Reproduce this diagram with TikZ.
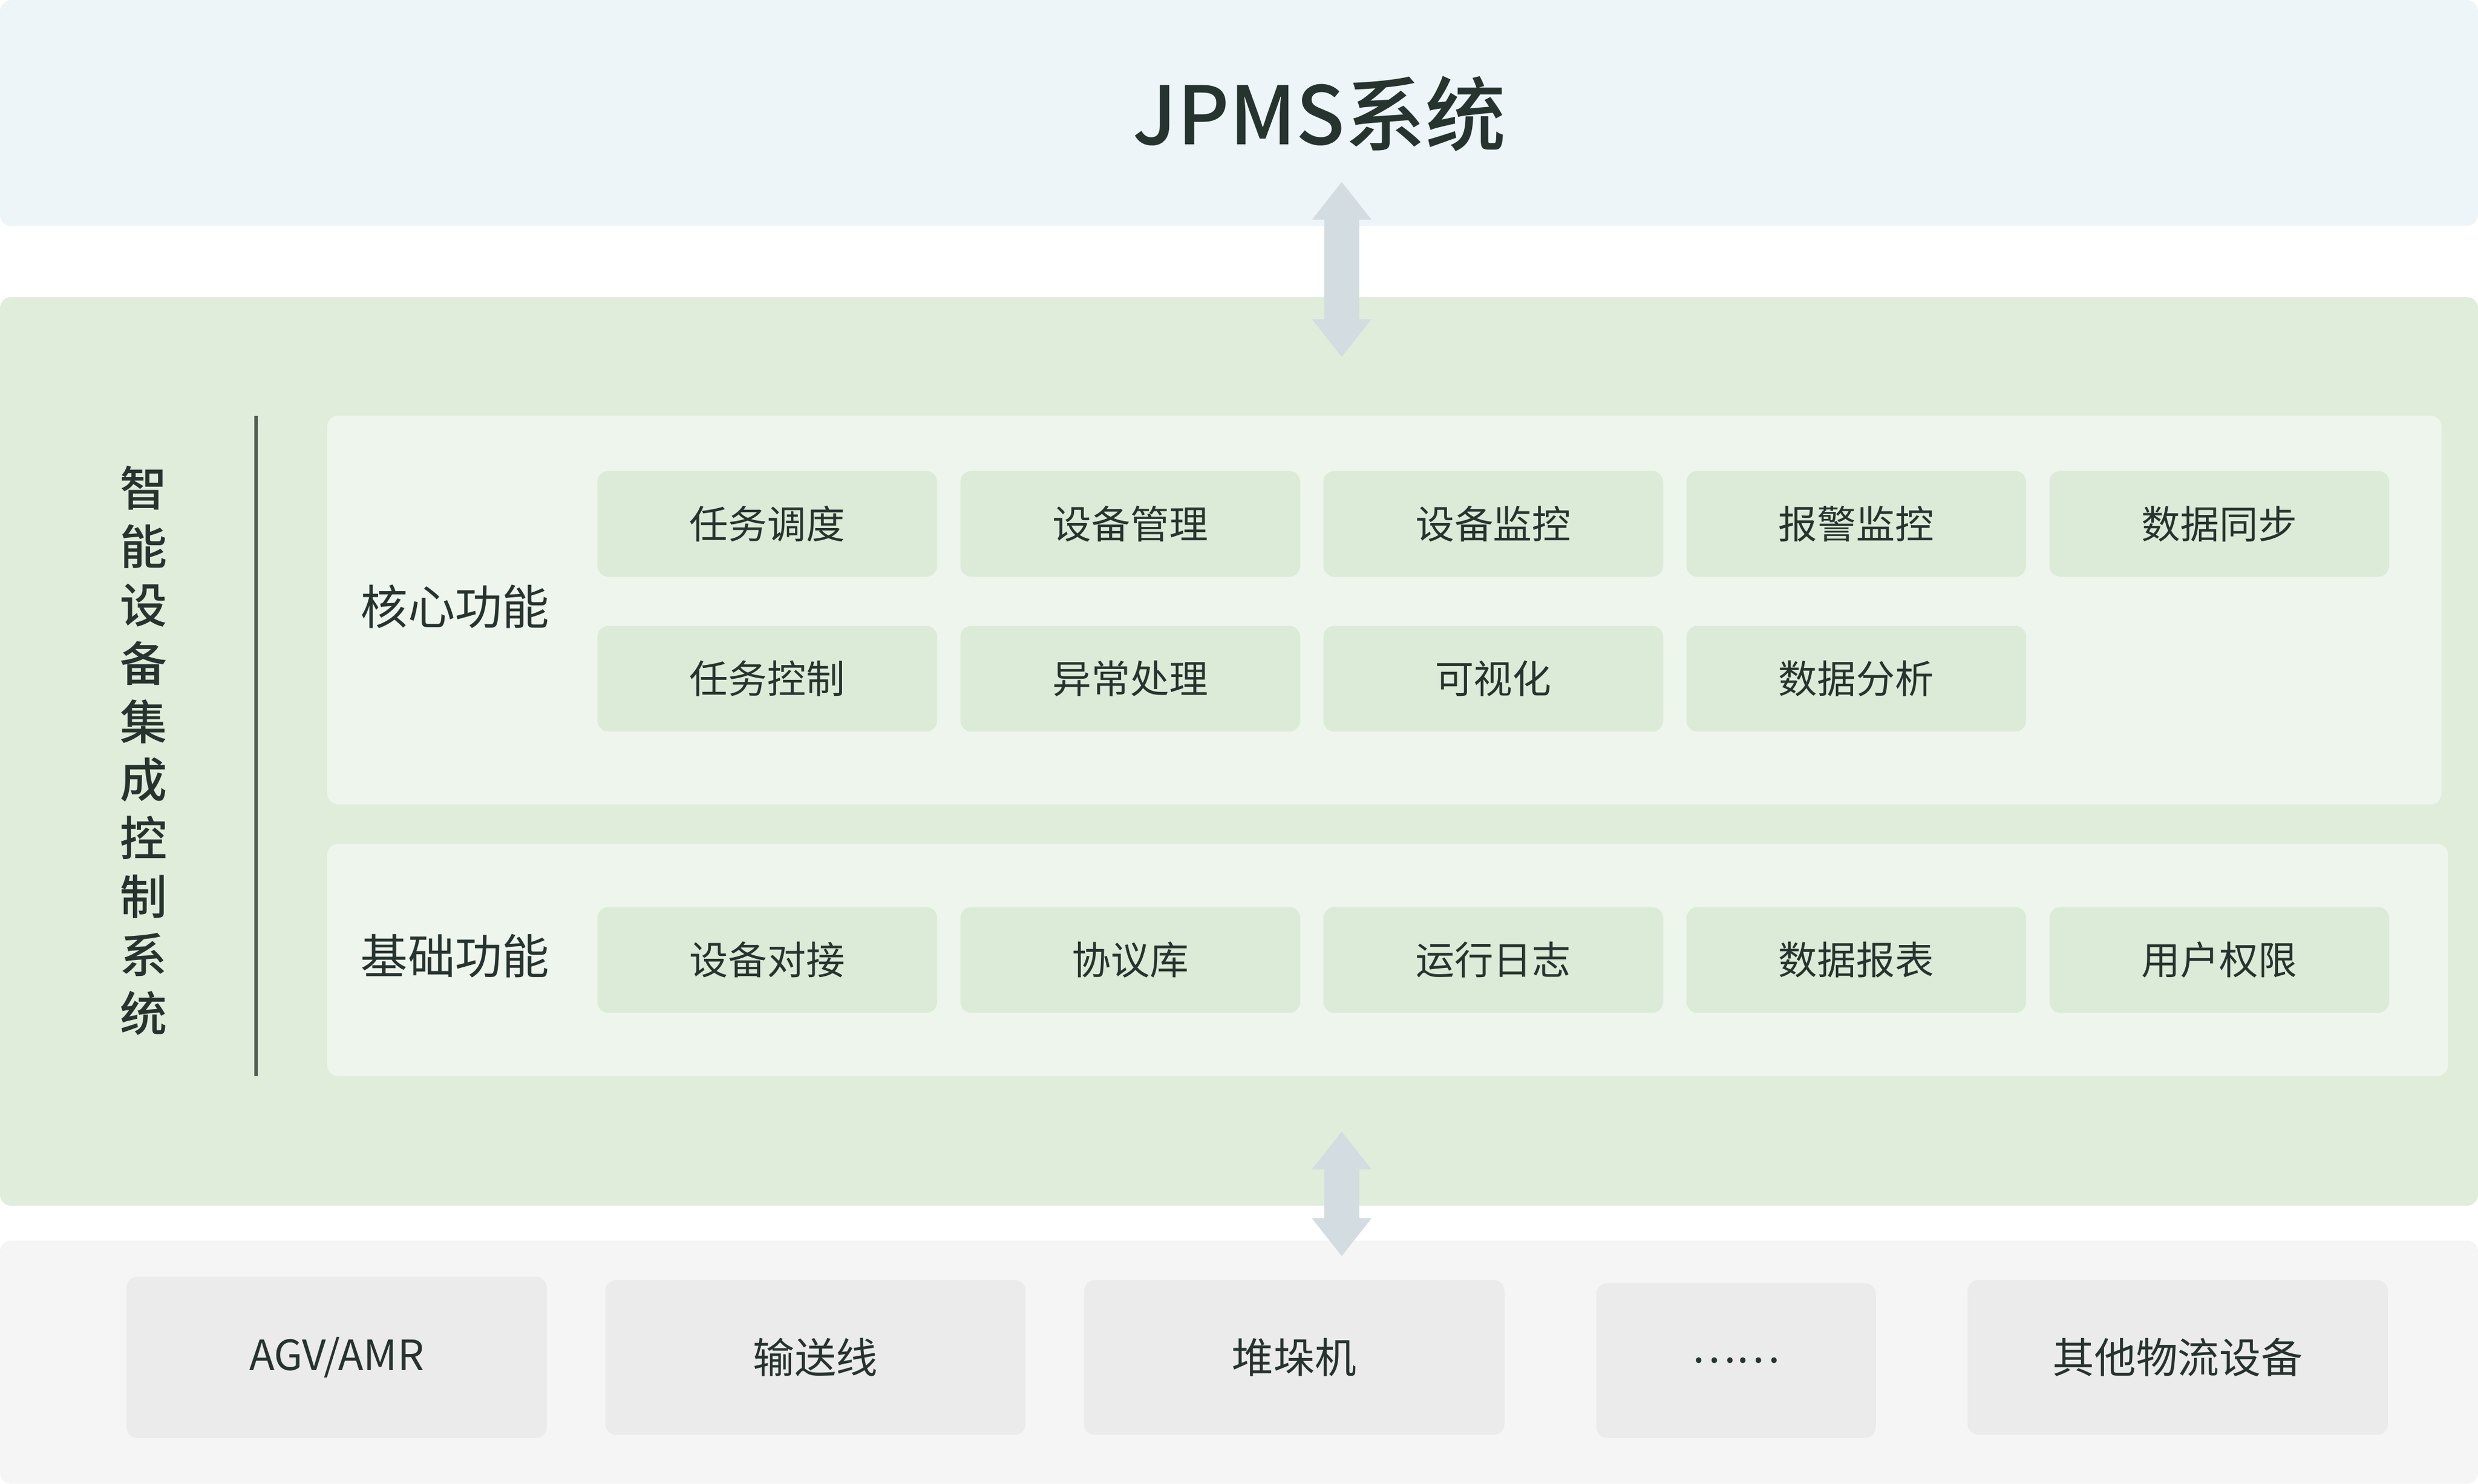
\documentclass[tikz,border=0pt]{standalone}
\usepackage{fontspec}
\setmainfont{Noto Sans CJK SC}
\newfontfamily\medium{Noto Sans CJK SC}[UprightFont=* Medium]
\usetikzlibrary{arrows.meta}
\definecolor{topband}{HTML}{EEF5F9}
\definecolor{midband}{HTML}{DFEDDA}
\definecolor{panel}{HTML}{EEF5EC}
\definecolor{cell}{HTML}{DCEBD7}
\definecolor{lowband}{HTML}{F5F5F5}
\definecolor{dev}{HTML}{EBEBEB}
\definecolor{linkgray}{HTML}{D3DCE0}
\definecolor{ink}{HTML}{26332F}
\tikzset{
  func/.style={fill=cell,rounded corners=2pt,minimum width=21.5mm,minimum height=6.7mm,
    inner sep=0pt,font=\fontsize{7}{8}\selectfont,text=ink},
  device/.style={fill=dev,rounded corners=2pt,inner sep=0pt,font=\fontsize{7.5}{9}\selectfont,text=ink},
  group/.style={font=\fontsize{8.5}{10}\selectfont,text=ink},
  dblarrow/.style={linkgray,line width=2.2mm,{Triangle[width=3.6mm,length=2.4mm]}-{Triangle[width=3.6mm,length=2.4mm]}}
}
\begin{document}
\begin{tikzpicture}[x=0.1mm,y=-0.1mm]
        \useasboundingbox (0,0) rectangle (1568,939);
        % bands
        \fill[topband,rounded corners=2pt] (0,0) rectangle (1568,143);
        \fill[midband,rounded corners=2pt] (0,188) rectangle (1568,763);
        \fill[lowband,rounded corners=2pt] (0,785) rectangle (1568,939);
        \fill[panel,rounded corners=2pt] (207,263) rectangle (1545,509);
        \fill[panel,rounded corners=2pt] (207,534) rectangle (1549,681);

        \node[font=\fontsize{14.5}{16}\selectfont\medium,text=ink] (jpms) at (835,72) {JPMS系统};
        \coordinate (top1) at (849,115);
        \coordinate (top2) at (849,226);
        \coordinate (low1) at (849,716);
        \coordinate (low2) at (849,795);
        \draw[dblarrow] (top1) -- (top2);
        \draw[dblarrow] (low1) -- (low2);

        % side title
        \draw[ink!80,line width=0.6pt] (162,263) -- (162,681);
        \node[font=\fontsize{8.5}{10.5}\selectfont\medium,text=ink,align=center] (side) at (91,475)
            {智\\能\\设\\备\\集\\成\\控\\制\\系\\统};

        \node[group] (core) at (288,384) {核心功能};
        \node[group] (base) at (288,605) {基础功能};

        \foreach \t [count=\i from 0] in {任务调度,设备管理,设备监控,报警监控,数据同步}
            \node[func] (c1\i) at (485.5+229.7*\i,331.5) {\t};
        \foreach \t [count=\i from 0] in {任务控制,异常处理,可视化,数据分析}
            \node[func] (c2\i) at (485.5+229.7*\i,429.5) {\t};
        \foreach \t [count=\i from 0] in {设备对接,协议库,运行日志,数据报表,用户权限}
            \node[func] (b\i) at (485.5+229.7*\i,607.5) {\t};

        % devices
        \node[device,minimum width=26.6mm,minimum height=10.2mm] (agv) at (213,859) {AGV/AMR};
        \node[device,minimum width=26.6mm,minimum height=9.8mm] (conv) at (516,859) {输送线};
        \node[device,minimum width=26.6mm,minimum height=9.8mm] (stack) at (819,859) {堆垛机};
        \node[device,minimum width=17.7mm,minimum height=9.8mm] (more) at (1098.5,861) {……};
        \node[device,minimum width=26.6mm,minimum height=9.8mm] (other) at (1378,859) {其他物流设备};
    \end{tikzpicture}
\end{document}
